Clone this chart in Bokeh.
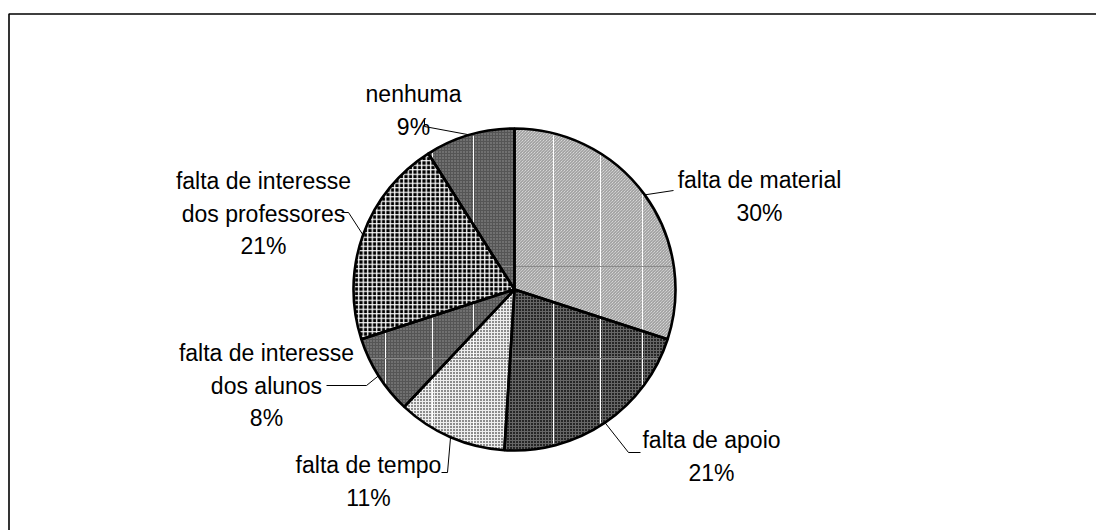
import math
from bokeh.plotting import figure
from bokeh.models import Range1d, ColumnDataSource
from bokeh.core.properties import value
from bokeh.embed import file_html
from bokeh.resources import INLINE

# ---- data ----
categories = ["falta de material", "falta de apoio", "falta de tempo",
              "falta de interesse dos alunos", "falta de interesse dos professores", "nenhuma"]
display_names = ["falta de material", "falta de apoio", "falta de tempo",
                 "falta de interesse\ndos alunos", "falta de interesse\ndos professores", "nenhuma"]
values = [30, 21, 11, 8, 21, 9]

# ---- styles ----
fills = ["#f0f0f0", "#262626", "#8c8c8c", "#555555", "#000000", "#555555"]
hatches = ["left_diagonal_line", "cross", "cross", "dot", "cross", "dot"]
hatch_colors = ["#8c8c8c", "#666666", "#eeeeee", "#999999", "#ffffff", "#999999"]
hatch_scales = [3, 3, 3, 3, 4.5, 3]
hatch_weights = [1, 1, 1, 1.2, 1.3, 1.2]

W, H = 1096, 530
def X(px): return px
def Y(py): return H - py

cx, cy, R = X(514), Y(289), 161

# layout: label block centres (reference pixels) and leader elbows
label_pos = [(759, 196), (711, 456), (368, 481), (266, 385), (263, 213), (413, 110)]
leader_elbows = [[(673, 190)],
                 [(628, 452), (640, 452)],
                 [(447, 472), (441, 472)],
                 [(366, 385), (326, 385)],
                 [(348, 212), (341, 212)],
                 [(424, 126), (424, 119)]]

total = float(sum(values))
starts, ends, mids = [], [], []
c = 0.0
for v in values:
    a0 = math.pi / 2 - 2 * math.pi * c / total
    c += v
    a1 = math.pi / 2 - 2 * math.pi * c / total
    starts.append(a0); ends.append(a1); mids.append((a0 + a1) / 2)

p = figure(width=W, height=H, x_range=Range1d(0, W), y_range=Range1d(0, H),
           output_backend="svg", toolbar_location=None, min_border=0)
p.axis.visible = False
p.grid.visible = False
p.outline_line_color = None
p.background_fill_color = "white"

# frame
p.line([X(8.5), X(8.5), X(1100)], [Y(540), Y(13.5), Y(13.5)], line_color="black", line_width=1.6)

def wedge(i):
    p.wedge(x=cx, y=cy, radius=R, start_angle=starts[i], end_angle=ends[i], direction="clock",
            fill_color=fills[i], line_color=None, hatch_pattern=hatches[i],
            hatch_color=hatch_colors[i], hatch_scale=hatch_scales[i], hatch_weight=hatch_weights[i])

for i in range(len(values)):
    wedge(i)

# faint sheet lines showing through the pie
for gx in [385, 432, 473, 553, 600, 642]:
    dx = X(gx) - cx
    hgt = math.sqrt(max(R * R - dx * dx, 0)) - 2
    p.segment(x0=X(gx), y0=cy - hgt, x1=X(gx), y1=cy + hgt, line_color="white", line_width=1)
for gy in [266, 358]:
    dy = Y(gy) - cy
    w = math.sqrt(max(R * R - dy * dy, 0)) - 2
    p.segment(x0=cx - w, y0=Y(gy), x1=cx + w, y1=Y(gy), line_color="#8a8a8a", line_width=1)

wedge(4)

# outlines
p.wedge(x=cx, y=cy, radius=R, start_angle=starts, end_angle=ends, direction="clock",
        fill_color=None, line_color="black", line_width=2.6)

# leaders
for i in range(len(values)):
    sx = cx + R * math.cos(mids[i]); sy = cy + R * math.sin(mids[i])
    xs = [sx] + [X(e[0]) for e in leader_elbows[i]]
    ys = [sy] + [Y(e[1]) for e in leader_elbows[i]]
    p.line(xs, ys, line_color="black", line_width=1)

labels = [f"{n}\n{v}%" for n, v in zip(display_names, values)]
src = ColumnDataSource(dict(x=[X(a) for a, b in label_pos], y=[Y(b) for a, b in label_pos], t=labels))
p.text(x="x", y="y", text="t", source=src, text_align="center", text_baseline="middle",
       text_font=value("Liberation Sans"), text_font_size="23px", text_line_height=1.25,
       text_color="black")

open("out.html", "w").write(file_html(p, INLINE))
